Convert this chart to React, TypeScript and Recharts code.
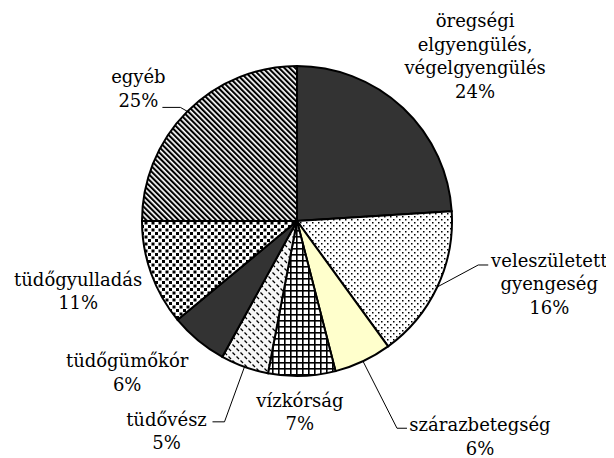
import React from "react";
import { PieChart, Pie, Cell } from "recharts";

const categories = [
  ["öregségi", "elgyengülés,", "végelgyengülés"],
  ["veleszületett", "gyengeség"],
  ["szárazbetegség"],
  ["vízkórság"],
  ["tüdővész"],
  ["tüdőgümőkór"],
  ["tüdőgyulladás"],
  ["egyéb"],
];
const shares = [24, 16, 6, 7, 5, 6, 11, 25];

const fills = [
  "#333333",
  "url(#dots)",
  "#FFFFCC",
  "url(#grid)",
  "url(#dashdiag)",
  "#333333",
  "url(#confetti)",
  "url(#stripes)",
];

// label block offset from the slice edge point, optional leader elbow + end
const labelLayout: { dx: number; dy: number; leader?: number[][] }[] = [
  { dx: 72, dy: -81 },
  { dx: 112, dy: -20, leader: [[41, -22], [51, -22]] },
  { dx: 117, dy: 70, leader: [[34, 67], [44, 67]] },
  { dx: -2, dy: 31 },
  { dx: -78, dy: 59, leader: [[-20, 55], [-32, 55]] },
  { dx: -71, dy: 27 },
  { dx: -73, dy: 12 },
  { dx: -49, dy: -28, leader: [[-7, -4], [-25, -4]] },
];

const data = categories.map((c, i) => ({ name: c.join(" "), lines: c, value: shares[i] }));

const RAD = Math.PI / 180;

const renderLabel = (props: any) => {
  const { cx, cy, midAngle, outerRadius, index } = props;
  const ex = cx + outerRadius * Math.cos(-midAngle * RAD);
  const ey = cy + outerRadius * Math.sin(-midAngle * RAD);
  const lay = labelLayout[index];
  const lines = [...data[index].lines, `${data[index].value}%`];
  const tx = ex + lay.dx;
  const ty = ey + lay.dy;
  return (
    <g key={`lbl-${index}`}>
      {lay.leader && (
        <polyline
          points={[[0, 0], ...lay.leader].map(([x, y]) => `${ex + x},${ey + y}`).join(" ")}
          fill="none"
          stroke="#000"
          strokeWidth={1}
        />
      )}
      <text
        x={tx}
        y={ty}
        textAnchor="middle"
        fontFamily="DejaVu Serif"
        fontSize={18}
        fill="#000"
      >
        {lines.map((l, k) => (
          <tspan key={k} x={tx} y={ty + k * 23.5}>
            {l}
          </tspan>
        ))}
      </text>
    </g>
  );
};

export default function App() {
  return (
    <PieChart width={606} height={450} margin={{ top: 0, right: 0, bottom: 0, left: 0 }}>
      <defs>
        <pattern id="dots" width="6" height="6" patternUnits="userSpaceOnUse">
          <rect width="6" height="6" fill="#fff" />
          <rect x="1" y="1" width="1.5" height="1.5" fill="#000" />
          <rect x="4" y="4" width="1.5" height="1.5" fill="#000" />
        </pattern>
        <pattern id="grid" width="6" height="6" patternUnits="userSpaceOnUse">
          <rect width="6" height="6" fill="#fff" />
          <rect x="0" y="0" width="6" height="1.6" fill="#000" />
          <rect x="0" y="0" width="1.6" height="6" fill="#000" />
        </pattern>
        <pattern id="dashdiag" width="8" height="8" patternUnits="userSpaceOnUse">
          <rect width="8" height="8" fill="#f7f7f7" />
          <line x1="0.5" y1="0.5" x2="3" y2="3" stroke="#000" strokeWidth="1.2" />
          <line x1="4.5" y1="4.5" x2="7" y2="7" stroke="#000" strokeWidth="1.2" />
        </pattern>
        <pattern id="confetti" width="7" height="7" patternUnits="userSpaceOnUse">
          <rect width="7" height="7" fill="#fff" />
          <rect x="0" y="0" width="3" height="3" fill="#000" />
          <rect x="3.5" y="3.5" width="3" height="3" fill="#000" />
        </pattern>
        <pattern
          id="stripes"
          width="3.8"
          height="3.8"
          patternUnits="userSpaceOnUse"
          patternTransform="rotate(-45)"
        >
          <rect width="3.8" height="3.8" fill="#fff" />
          <rect width="2.1" height="3.8" fill="#000" />
        </pattern>
      </defs>
      <Pie
        data={data}
        dataKey="value"
        nameKey="name"
        cx={289}
        cy={213}
        outerRadius={155}
        startAngle={90}
        endAngle={-270}
        stroke="#000"
        strokeWidth={2}
        label={renderLabel}
        labelLine={false}
        isAnimationActive={false}
      >
        {data.map((d, i) => (
          <Cell key={d.name} fill={fills[i]} />
        ))}
      </Pie>
    </PieChart>
  );
}
